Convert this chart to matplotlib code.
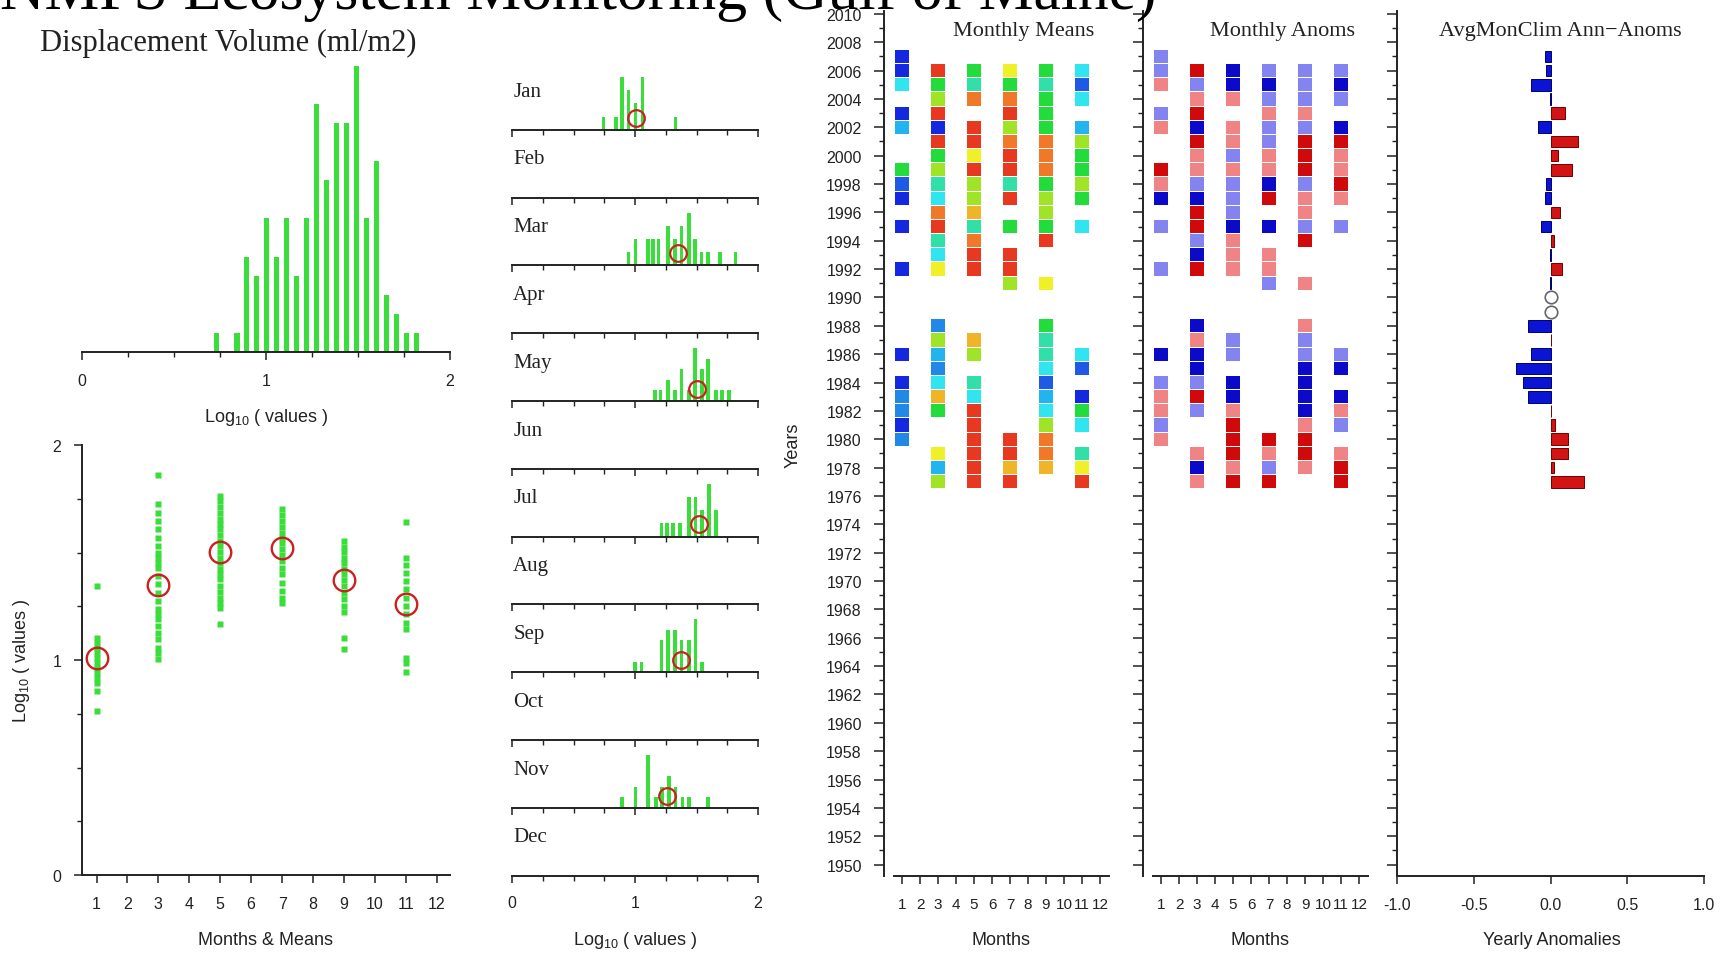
import numpy as np
import matplotlib.pyplot as plt
from matplotlib.colors import ListedColormap, BoundaryNorm
from matplotlib.ticker import MultipleLocator, FormatStrFormatter

plt.rcParams['font.family'] = ['Liberation Sans', 'DejaVu Sans']
plt.rcParams['mathtext.fontset'] = 'custom'
plt.rcParams['mathtext.rm'] = 'Liberation Sans'
plt.rcParams['mathtext.it'] = 'Liberation Sans:italic'
SERIF = ['Liberation Serif', 'DejaVu Serif']

# ---- all samples: histogram of log10 values ----
all_bins = [0.733, 0.787, 0.842, 0.896, 0.950, 1.005, 1.059, 1.113, 1.167, 1.222, 1.276,
            1.330, 1.385, 1.439, 1.493, 1.548, 1.602, 1.656, 1.710, 1.765, 1.819]
all_counts = [1, 0, 1, 5, 4, 7, 5, 7, 4, 7, 13, 9, 12, 12, 15, 7, 10, 3, 2, 1, 1]

# ---- log10 values by month (scatter) ----
jan_pts = [1.344, 1.104, 1.081, 1.057, 1.034, 1.011, 0.988, 0.964, 0.941, 0.918, 0.895, 0.856, 0.763]
mar_pts = [1.859, 1.724, 1.685, 1.647, 1.608, 1.569, 1.530, 1.499, 1.476, 1.453, 1.429, 1.391,
           1.352, 1.313, 1.274, 1.236, 1.212, 1.189, 1.158, 1.127, 1.096, 1.057, 1.034, 1.003]
may_pts = [1.763, 1.740, 1.713, 1.685, 1.657, 1.631, 1.608, 1.580, 1.553, 1.530, 1.502, 1.476,
           1.453, 1.425, 1.398, 1.375, 1.344, 1.316, 1.290, 1.267, 1.243, 1.166]
jul_pts = [1.701, 1.673, 1.647, 1.620, 1.592, 1.569, 1.543, 1.515, 1.487, 1.460, 1.429, 1.398,
           1.360, 1.321, 1.290, 1.267]
sep_pts = [1.553, 1.527, 1.502, 1.476, 1.453, 1.425, 1.398, 1.372, 1.344, 1.313, 1.282, 1.251,
           1.223, 1.104, 1.050]
nov_pts = [1.642, 1.476, 1.440, 1.403, 1.367, 1.329, 1.290, 1.251, 1.212, 1.174, 1.143, 1.011,
           0.988, 0.944]
clim_months = [1, 3, 5, 7, 9, 11]
clim_means = [1.011, 1.349, 1.502, 1.522, 1.372, 1.259]

# ---- per-month histograms ----
month_names = ['Jan', 'Feb', 'Mar', 'Apr', 'May', 'Jun',
               'Jul', 'Aug', 'Sep', 'Oct', 'Nov', 'Dec']
jan_hx = [0.743, 0.846, 0.892, 0.946, 1.005, 1.062, 1.330]
jan_hn = [1, 1, 4, 3, 2, 4, 1]
mar_hx = [0.946, 1.005, 1.108, 1.149, 1.190, 1.270, 1.324, 1.378, 1.438, 1.486, 1.540, 1.595, 1.689, 1.816]
mar_hn = [1, 2, 2, 2, 2, 3, 2, 3, 4, 2, 1, 1, 1, 1]
may_hx = [1.162, 1.208, 1.270, 1.324, 1.378, 1.438, 1.486, 1.546, 1.595, 1.657, 1.708, 1.765]
may_hn = [1, 1, 2, 1, 3, 1, 5, 3, 4, 1, 1, 1]
jul_hx = [1.216, 1.262, 1.311, 1.365, 1.438, 1.492, 1.546, 1.600, 1.657]
jul_hn = [1, 1, 1, 1, 3, 3, 2, 4, 2]
sep_hx = [1.000, 1.054, 1.216, 1.270, 1.324, 1.378, 1.438, 1.492, 1.546]
sep_hn = [1, 1, 3, 4, 4, 3, 3, 5, 1]
nov_hx = [0.897, 1.005, 1.108, 1.168, 1.220, 1.276, 1.330, 1.386, 1.438, 1.595]
nov_hn = [1, 2, 5, 1, 2, 3, 2, 1, 1, 1]

# ---- year x month grids: monthly means (log10) and anomalies ----
jan_years = [2007, 2006, 2005, 2003, 2002, 1999, 1998, 1997, 1995, 1992, 1986, 1984, 1983, 1982, 1981, 1980]
jan_means = [0.84, 0.85, 1.16, 0.86, 1.06, 1.32, 0.93, 0.86, 0.85, 0.84, 0.84, 0.86, 1.00, 1.00, 0.85, 1.00]
jan_anoms = [-0.08, -0.08, 0.08, -0.08, 0.08, 0.25, 0.08, -0.25, -0.08, -0.08, -0.25, -0.08, 0.08, 0.08, -0.08, 0.08]

mar_years = [2006, 2005, 2004, 2003, 2002, 2001, 2000, 1999, 1998, 1997, 1996, 1995, 1994, 1993, 1992,
             1988, 1987, 1986, 1985, 1984, 1983, 1982, 1979, 1978, 1977]
mar_means = [1.72, 1.32, 1.38, 1.72, 0.86, 1.72, 1.32, 1.42, 1.24, 1.18, 1.64, 1.72, 1.24, 1.16, 1.48,
             0.98, 1.42, 1.08, 1.00, 1.19, 1.56, 1.32, 1.48, 1.08, 1.40]
mar_anoms = [0.25, -0.08, 0.08, 0.25, -0.25, 0.25, 0.08, 0.08, -0.08, -0.25, 0.25, 0.25, -0.08, -0.25, 0.25,
             -0.25, 0.08, -0.25, -0.25, -0.08, 0.25, -0.08, 0.08, -0.25, 0.08]

may_years = [2006, 2005, 2004, 2002, 2001, 2000, 1999, 1998, 1997, 1996, 1995, 1994, 1993, 1992,
             1987, 1986, 1984, 1983, 1982, 1981, 1980, 1979, 1978, 1977]
may_means = [1.32, 1.26, 1.64, 1.72, 1.72, 1.48, 1.72, 1.40, 1.38, 1.56, 1.24, 1.62, 1.72, 1.72,
             1.56, 1.40, 1.24, 1.16, 1.72, 1.72, 1.72, 1.72, 1.72, 1.72]
may_anoms = [-0.25, -0.25, 0.08, 0.08, 0.08, -0.08, 0.08, -0.08, -0.08, -0.08, -0.25, 0.08, 0.08, 0.08,
             -0.08, -0.08, -0.25, -0.25, 0.08, 0.25, 0.25, 0.25, 0.08, 0.25]

jul_years = [2006, 2005, 2004, 2003, 2002, 2001, 2000, 1999, 1998, 1997, 1995, 1993, 1992, 1991,
             1980, 1979, 1978, 1977]
jul_means = [1.48, 1.32, 1.62, 1.72, 1.40, 1.64, 1.72, 1.72, 1.24, 1.72, 1.32, 1.72, 1.72, 1.40,
             1.72, 1.72, 1.56, 1.72]
jul_anoms = [-0.08, -0.25, -0.08, 0.08, -0.08, -0.08, 0.08, 0.08, -0.25, 0.25, -0.25, 0.08, 0.08, -0.08,
             0.25, 0.08, -0.08, 0.25]

sep_years = [2006, 2005, 2004, 2003, 2002, 2001, 2000, 1999, 1998, 1997, 1996, 1995, 1994, 1991,
             1988, 1987, 1986, 1985, 1984, 1983, 1982, 1981, 1980, 1979, 1978]
sep_means = [1.32, 1.26, 1.32, 1.30, 1.32, 1.62, 1.62, 1.62, 1.30, 1.42, 1.37, 1.32, 1.72, 1.48,
             1.34, 1.26, 1.26, 1.20, 0.94, 1.08, 1.18, 1.40, 1.64, 1.64, 1.56]
sep_anoms = [-0.08, -0.08, -0.08, 0.08, -0.08, 0.25, 0.25, 0.25, -0.08, 0.08, 0.08, -0.08, 0.25, 0.08,
             0.08, -0.08, -0.08, -0.25, -0.25, -0.25, -0.25, 0.08, 0.25, 0.25, 0.08]

nov_years = [2006, 2005, 2004, 2002, 2001, 2000, 1999, 1998, 1997, 1995, 1986, 1985, 1983, 1982,
             1981, 1979, 1978, 1977]
nov_means = [1.16, 0.95, 1.16, 1.08, 1.40, 1.32, 1.34, 1.40, 1.32, 1.16, 1.16, 0.95, 0.86, 1.32,
             1.18, 1.26, 1.48, 1.72]
nov_anoms = [-0.08, -0.25, -0.08, -0.25, 0.25, 0.08, 0.08, 0.25, 0.08, -0.08, -0.08, -0.25, -0.25, 0.08,
             -0.08, 0.08, 0.25, 0.25]

# ---- annual anomalies (average of monthly anomalies) ----
ann_years = [2007, 2006, 2005, 2004, 2003, 2002, 2001, 2000, 1999, 1998, 1997, 1996, 1995, 1994,
             1993, 1992, 1991, 1988, 1987, 1986, 1985, 1984, 1983, 1982, 1981, 1980, 1979, 1978, 1977]
ann_anoms = [-0.033, -0.028, -0.126, -0.005, 0.096, -0.083, 0.182, 0.052, 0.139, -0.028, -0.039, 0.065,
             -0.065, 0.026, -0.005, 0.074, -0.004, -0.148, 0.006, -0.126, -0.224, -0.180, -0.148,
             0.004, 0.030, 0.113, 0.113, 0.022, 0.221]
missing_years = [1990, 1989]

W, H = 1723, 954
GREEN = '#3ade3a'
RED = '#cc2020'
INK = '#222222'

fig = plt.figure(figsize=(W / 100, H / 100), dpi=100)


def add_ax(x0, y0, x1, y1):
    # box in pixels (left, top, right, bottom) -> figure fraction
    return fig.add_axes([x0 / W, 1 - y1 / H, (x1 - x0) / W, (y1 - y0) / H])


def style(ax, spines=('bottom',), pad=9):
    for s in ax.spines:
        ax.spines[s].set_visible(s in spines)
        ax.spines[s].set_linewidth(1.4)
        ax.spines[s].set_color(INK)
    ax.patch.set_visible(False)
    ax.tick_params(which='major', direction='out', length=6, width=1.1, color=INK,
                   labelsize=11.5, labelcolor=INK, pad=pad)
    ax.tick_params(which='minor', direction='out', length=3.5, width=1.0, color=INK)
    if 'left' not in spines:
        ax.tick_params(axis='y', which='both', left=False, labelleft=False)


def label(x, y, s, size=13, **kw):
    fig.text(x / W, 1 - y / H, s, fontsize=size, color=INK, ha='center', va='center', **kw)


# title (runs off the top of the page, as in the original)
fig.text(0, 1 - 9 / H, 'NMFS Ecosystem Monitoring (Gulf of Maine)', fontsize=44.5,
         family=SERIF, ha='left', va='baseline', color='black')
fig.text(40 / W, 1 - 51 / H, 'Displacement Volume (ml/m2)', fontsize=22,
         family=SERIF, ha='left', va='baseline', color=INK)

# overall histogram
ax = add_ax(82, 63, 450, 353)
ax.bar(all_bins, all_counts, width=0.028, color=GREEN, linewidth=0)
ax.set_xlim(0, 2)
ax.set_ylim(0, 15.2)
ax.xaxis.set_major_locator(MultipleLocator(1))
ax.xaxis.set_minor_locator(MultipleLocator(0.25))
style(ax)
label(266, 418, 'Log$_{10}$ ( values )')

# scatter by month with climatological means
ax = add_ax(82, 446, 450, 876)
for m, pts in zip(clim_months, [jan_pts, mar_pts, may_pts, jul_pts, sep_pts, nov_pts]):
    ax.plot([m] * len(pts), pts, 's', ms=3.7, color=GREEN, mec='none')
ax.plot(clim_months, clim_means, 'o', ms=15.5, mfc='none', mec=RED, mew=1.7)
ax.set_xlim(0.53, 12.43)
ax.set_ylim(0, 2)
ax.set_xticks(range(1, 13))
ax.yaxis.set_major_locator(MultipleLocator(1))
ax.yaxis.set_minor_locator(MultipleLocator(0.25))
style(ax, ('bottom', 'left'))
label(266, 941, 'Months & Means')
label(22, 661, 'Log$_{10}$ ( values )', rotation=90)

# per-month histograms
hist_x = [jan_hx, None, mar_hx, None, may_hx, None, jul_hx, None, sep_hx, None, nov_hx, None]
hist_n = [jan_hn, None, mar_hn, None, may_hn, None, jul_hn, None, sep_hn, None, nov_hn, None]
mean_of = dict(zip(clim_months, clim_means))
for i, name in enumerate(month_names):
    top = 63 + 67.8 * i
    ax = add_ax(512, top, 758, top + 67.8)
    if hist_x[i] is not None:
        ax.bar(hist_x[i], hist_n[i], width=0.03, color=GREEN, linewidth=0)
        ax.set_ylim(0, max(hist_n[i]) / 0.78)
        ax.plot([mean_of[i + 1]], [0.18], 'o', ms=12, mfc='none', mec=RED, mew=1.6,
                transform=ax.get_xaxis_transform(), clip_on=False)
    ax.set_xlim(0, 2)
    ax.xaxis.set_major_locator(MultipleLocator(1))
    ax.xaxis.set_minor_locator(MultipleLocator(0.25))
    style(ax)
    ax.tick_params(which='major', length=5)
    ax.tick_params(which='minor', length=3.5)
    if i < 11:
        ax.tick_params(axis='x', labelbottom=False)
    ax.text(0.005, 0.57, name, transform=ax.transAxes, family=SERIF, fontsize=15,
            ha='left', va='center', color=INK)
label(635, 941, 'Log$_{10}$ ( values )')

# year x month grids
years_all = [jan_years, mar_years, may_years, jul_years, sep_years, nov_years]
means_all = [jan_means, mar_means, may_means, jul_means, sep_means, nov_means]
anoms_all = [jan_anoms, mar_anoms, may_anoms, jul_anoms, sep_anoms, nov_anoms]

mean_cmap = ListedColormap(['#1428e0', '#1e5ae6', '#2288e8', '#22b4f0', '#30e4f0', '#30e0a8',
                            '#22dc3c', '#a0e428', '#f0f028', '#f0b428', '#f07828', '#e83820'])
mean_norm = BoundaryNorm(np.linspace(0.80, 1.76, 13), 12)
anom_cmap = ListedColormap(['#0a0ac8', '#8484f0', '#f08484', '#d00a0a'])
anom_norm = BoundaryNorm([-1, -0.15, 0, 0.15, 1], 4)

YLIM = (1949.2, 2010.2)
for x0, vals_all, cmap, norm, title, xl in [
        (884, means_all, mean_cmap, mean_norm, 'Monthly Means', 1001),
        (1143, anoms_all, anom_cmap, anom_norm, 'Monthly Anoms', 1260)]:
    ax = add_ax(x0, 12, x0 + 225, 877)
    for m, yrs, vals in zip(clim_months, years_all, vals_all):
        ax.bar([m] * len(yrs), 0.93, bottom=np.array(yrs) - 0.465, width=0.76,
               color=cmap(norm(vals)), linewidth=0)
    ax.set_xlim(0, 12.5)
    ax.set_ylim(*YLIM)
    ax.set_xticks(range(1, 13))
    ax.yaxis.set_major_locator(MultipleLocator(2))
    ax.yaxis.set_minor_locator(MultipleLocator(1))
    style(ax, ('bottom', 'left'))
    ax.tick_params(axis='x', labelsize=11)
    ax.spines['bottom'].set_bounds(0.55, 12.5)
    ax.spines['left'].set_bounds(*YLIM)
    ax.tick_params(axis='y', which='major', length=7)
    if x0 != 884:
        ax.tick_params(axis='y', labelleft=False)
    fig.text((x0 + 140) / W, 1 - 36 / H, title, fontsize=16, family=SERIF,
             ha='center', va='baseline', color=INK)
    label(xl, 941, 'Months')
label(793, 445, 'Years', rotation=90)

# annual anomalies
ax = add_ax(1397, 12, 1704, 877)
colors = ['#0a14d2' if v < 0 else '#d21414' for v in ann_anoms]
edges = ['#000070' if v < 0 else '#700000' for v in ann_anoms]
ax.barh(ann_years, ann_anoms, height=0.82, color=colors, edgecolor=edges, linewidth=0.7)
ax.plot([0] * len(missing_years), missing_years, 'o', ms=9, mfc='white', mec='#666666', mew=1.2)
ax.set_xlim(-1, 1)
ax.set_ylim(*YLIM)
ax.set_xticks([-1, -0.5, 0, 0.5, 1])
ax.xaxis.set_major_formatter(FormatStrFormatter('%.1f'))
ax.yaxis.set_major_locator(MultipleLocator(2))
ax.yaxis.set_minor_locator(MultipleLocator(1))
style(ax, ('bottom', 'left'))
ax.tick_params(axis='y', which='major', length=7, labelleft=False)
fig.text(1560 / W, 1 - 36 / H, 'AvgMonClim Ann\u2212Anoms', fontsize=16, family=SERIF,
         ha='center', va='baseline', color=INK)
label(1552, 941, 'Yearly Anomalies')

fig.savefig('out.png', dpi=100, facecolor='white')
